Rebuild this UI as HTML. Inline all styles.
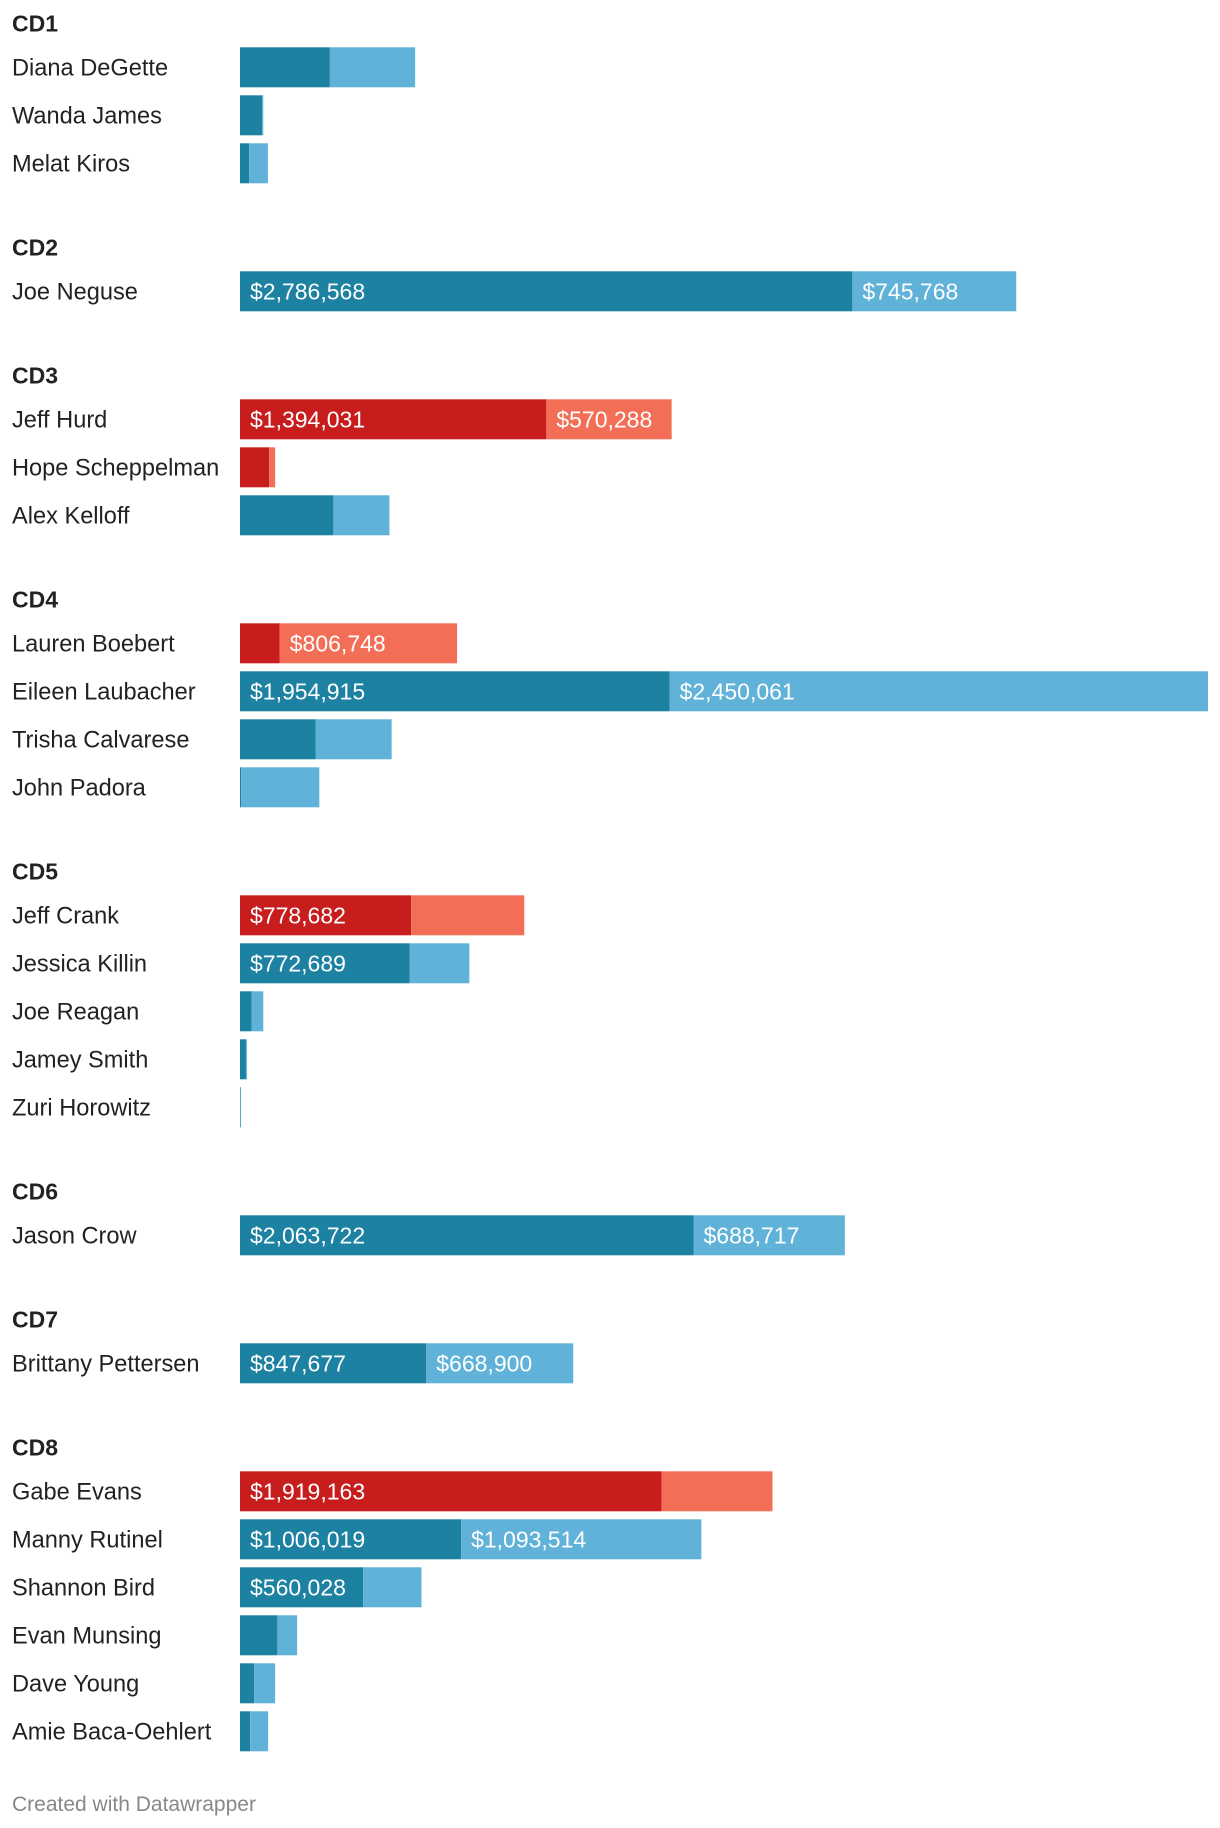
<!DOCTYPE html>
<html><head><meta charset="utf-8">
<style>
html,body{margin:0;padding:0;background:#fff;}
svg{display:block;font-family:"Liberation Sans",Arial,sans-serif;}
</style></head>
<body>
<svg id="chart" width="1220" height="1828" viewBox="0 0 1220 1828" xmlns="http://www.w3.org/2000/svg">
<text x="12" y="1811" font-size="21" fill="#888">Created with Datawrapper</text>
</svg>
<script>
const groups = ["CD1","CD2","CD3","CD4","CD5","CD6","CD7","CD8"];
const names = [
 ["Diana DeGette","Wanda James","Melat Kiros"],
 ["Joe Neguse"],
 ["Jeff Hurd","Hope Scheppelman","Alex Kelloff"],
 ["Lauren Boebert","Eileen Laubacher","Trisha Calvarese","John Padora"],
 ["Jeff Crank","Jessica Killin","Joe Reagan","Jamey Smith","Zuri Horowitz"],
 ["Jason Crow"],
 ["Brittany Pettersen"],
 ["Gabe Evans","Manny Rutinel","Shannon Bird","Evan Munsing","Dave Young","Amie Baca-Oehlert"]
];
const party = [
 ["D","D","D"],["D"],["R","R","D"],["R","D","D","D"],["R","D","D","D","D"],["D"],["D"],["R","D","D","D","D","D"]
];
const raised = [
 [409000,101000,42000],[2786568],[1394031,133000,425000],[181000,1954915,345000,5000],
 [778682,772689,53000,27000,1000],[2063722],[847677],[1919163,1006019,560028,170000,64000,46000]
];
const cash = [
 [388000,5000,85000],[745768],[570288,27000,255000],[806748,2450061,345000,356000],
 [515000,271000,53000,5000,2000],[688717],[668900],[504000,1093514,266000,90000,96000,82000]
];

const svg = document.getElementById('chart');
const NS = "http://www.w3.org/2000/svg";
const x0 = 240, maxW = 968;
const maxTotal = 1954915 + 2450061;
function xs(v){ return v / maxTotal * maxW; }
const colors = {D:["#1d81a2","#60b2d8"], R:["#c71e1d","#f36e57"]};
function fmt(v){ return "$" + v.toLocaleString("en-US"); }
function mk(tag, attrs){ const e=document.createElementNS(NS,tag); for(const k in attrs) e.setAttribute(k,attrs[k]); return e; }

let y = 23.3;
groups.forEach((g, gi) => {
  const h = mk("text",{x:12,y:y+8,"font-size":23,"font-weight":"bold",fill:"#222"});
  h.textContent = g;
  
  
  svg.appendChild(h);
  y += 44;
  names[gi].forEach((n, ri) => {
    if (ri > 0) y += 48;
    const t = mk("text",{x:12,y:y+8,"font-size":23.6,fill:"#222"});
    t.textContent = n;
    
    
    svg.appendChild(t);
    const c = colors[party[gi][ri]];
    const w1 = xs(raised[gi][ri]), w2 = xs(cash[gi][ri]);
    const r1 = mk("rect",{x:x0,y:y-20,width:Math.max(w1,0.8),height:40,fill:c[0]});
    
    
    svg.appendChild(r1);
    const r2 = mk("rect",{x:x0+w1,y:y-20,width:Math.max(w2,0.8),height:40,fill:c[1]});
    
    
    svg.appendChild(r2);
    if (w1 >= 120) {
      const l = mk("text",{x:x0+10,y:y+8,"font-size":23,fill:"#fff"});
      l.textContent = fmt(raised[gi][ri]);
      
      
      svg.appendChild(l);
    }
    if (w2 >= 120) {
      const l = mk("text",{x:x0+w1+10,y:y+8,"font-size":23,fill:"#fff"});
      l.textContent = fmt(cash[gi][ri]);
      
      
      svg.appendChild(l);
    }
  });
  y += 84;
});
</script>
</body></html>
